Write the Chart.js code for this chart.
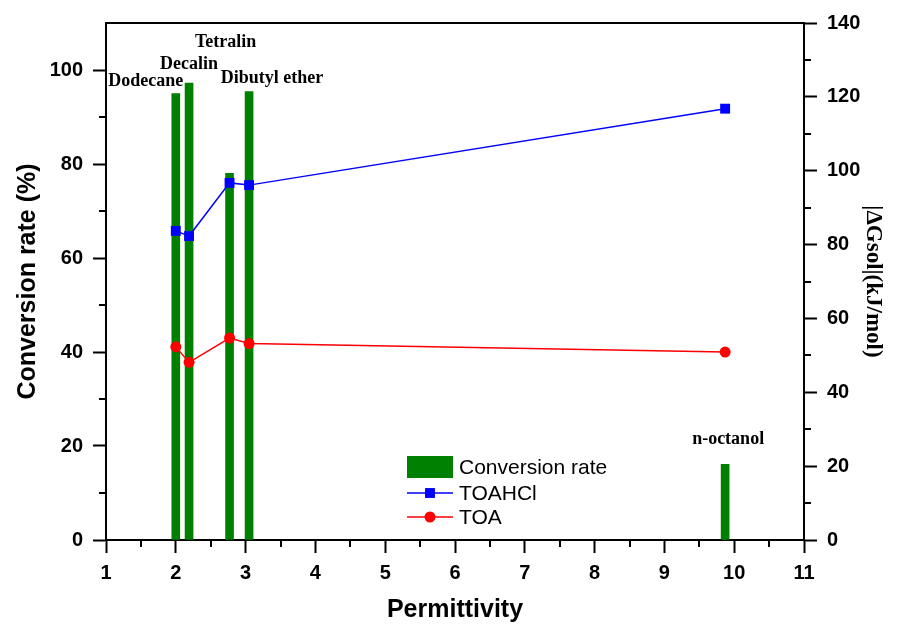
<!DOCTYPE html>
<html>
<head>
<meta charset="utf-8">
<title>Conversion rate vs permittivity</title>
<script src="https://cdn.jsdelivr.net/npm/chart.js@4/dist/chart.umd.min.js"></script>
<style>
  html, body { margin: 0; padding: 0; background: #fff; }
  #wrap { width: 897px; height: 625px; position: relative; }
</style>
</head>
<body>
<div id="wrap"><canvas id="chart"></canvas></div>
<script>
// solvents and their permittivity
const solvents = ['Dodecane', 'Decalin', 'Tetralin', 'Dibutyl ether', 'n-octanol'];
const permittivity = [2.0, 2.19, 2.77, 3.05, 9.87];

// conversion rate (%) - left axis
const conversionRate = [95.0, 97.2, 78.0, 95.4, 16.1];

// |dGsol| (kJ/mol) - right axis
const toahcl = [83.7, 82.3, 96.7, 96.1, 116.8];
const toa = [52.3, 48.1, 54.7, 53.2, 50.9];

// axis ticks
const xTicks = [1, 2, 3, 4, 5, 6, 7, 8, 9, 10, 11];
const xMinor = [1.5, 2.5, 3.5, 4.5, 5.5, 6.5, 7.5, 8.5, 9.5, 10.5];
const leftTicks = [0, 20, 40, 60, 80, 100];
const leftMinor = [10, 30, 50, 70, 90];
const rightTicks = [0, 20, 40, 60, 80, 100, 120, 140];
const rightMinor = [10, 30, 50, 70, 90, 110, 130];

// pixel offsets of the solvent names from the top of their bar
const labelOffsets = [[-30, -12], [0, -19], [-4, -131], [23, -13], [3, -25]];

const GREEN = 'rgb(0,128,0)';
const BLUE = 'rgb(0,0,255)';
const RED = 'rgb(255,0,0)';

const sans = 'Liberation Sans, Arial, sans-serif';
const serif = 'Liberation Serif, Times New Roman, serif';

const toPoints = (ys) => permittivity.map((x, i) => ({ x: x, y: ys[i] }));

// short minor ticks + top frame line
const frameAndMinor = {
  id: 'frameAndMinor',
  afterDraw(chart) {
    const ctx = chart.ctx;
    const area = chart.chartArea;
    const { x, y, y1 } = chart.scales;
    ctx.save();
    ctx.strokeStyle = '#000';
    ctx.lineWidth = 2;
    ctx.beginPath();
    ctx.moveTo(area.left - 1, area.top);
    ctx.lineTo(area.right + 1, area.top);
    xMinor.forEach(v => {
      const px = Math.round(x.getPixelForValue(v));
      ctx.moveTo(px, area.bottom);
      ctx.lineTo(px, area.bottom + 7);
    });
    leftMinor.forEach(v => {
      const py = Math.round(y.getPixelForValue(v));
      ctx.moveTo(area.left, py);
      ctx.lineTo(area.left - 7, py);
    });
    rightMinor.forEach(v => {
      const py = Math.round(y1.getPixelForValue(v));
      ctx.moveTo(area.right, py);
      ctx.lineTo(area.right + 7, py);
    });
    ctx.stroke();
    ctx.restore();
  }
};

// solvent names above the bars
const barLabels = {
  id: 'barLabels',
  afterDatasetsDraw(chart) {
    const ctx = chart.ctx;
    const { x, y } = chart.scales;
    ctx.save();
    ctx.fillStyle = '#000';
    ctx.font = 'bold 18px ' + serif;
    ctx.textAlign = 'center';
    ctx.textBaseline = 'middle';
    solvents.forEach((name, i) => {
      const px = x.getPixelForValue(permittivity[i]) + labelOffsets[i][0];
      const py = y.getPixelForValue(conversionRate[i]) + labelOffsets[i][1];
      ctx.fillText(name, px, py);
    });
    ctx.restore();
  }
};

// legend inside the plot, lower middle
const insideLegend = {
  id: 'insideLegend',
  afterDraw(chart) {
    const ctx = chart.ctx;
    const area = chart.chartArea;
    const left = area.left + 301;
    const top = area.top + 433;
    ctx.save();
    ctx.font = '21px ' + sans;
    ctx.textBaseline = 'middle';
    ctx.fillStyle = GREEN;
    ctx.fillRect(left, top, 46, 22);
    ctx.fillStyle = '#000';
    ctx.fillText('Conversion rate', left + 52, top + 12);

    const rows = [
      { label: 'TOAHCl', color: BLUE, style: 'rect', r: 7, dy: 37 },
      { label: 'TOA', color: RED, style: 'circle', r: 5.5, dy: 61 }
    ];
    rows.forEach(row => {
      const cy = top + row.dy;
      ctx.strokeStyle = row.color;
      ctx.lineWidth = 1.5;
      ctx.beginPath();
      ctx.moveTo(left, cy);
      ctx.lineTo(left + 46, cy);
      ctx.stroke();
      ctx.fillStyle = row.color;
      Chart.helpers.drawPoint(ctx, { pointStyle: row.style, radius: row.r, borderWidth: 0 }, left + 23, cy);
      ctx.fillStyle = '#000';
      ctx.fillText(row.label, left + 52, cy + 1);
    });
    ctx.restore();
  }
};

const ctx = document.getElementById('chart');

new Chart(ctx, {
  type: 'bar',
  data: {
    datasets: [
      {
        type: 'line',
        label: 'TOAHCl',
        data: toPoints(toahcl),
        yAxisID: 'y1',
        borderColor: BLUE,
        backgroundColor: BLUE,
        borderWidth: 1.5,
        pointStyle: 'rect',
        pointRadius: 7,
        pointBorderWidth: 0,
        pointBackgroundColor: BLUE,
        order: 0
      },
      {
        type: 'line',
        label: 'TOA',
        data: toPoints(toa),
        yAxisID: 'y1',
        borderColor: RED,
        backgroundColor: RED,
        borderWidth: 1.5,
        pointStyle: 'circle',
        pointRadius: 5.5,
        pointBorderWidth: 0,
        pointBackgroundColor: RED,
        order: 1
      },
      {
        type: 'bar',
        label: 'Conversion rate',
        data: toPoints(conversionRate),
        yAxisID: 'y',
        backgroundColor: GREEN,
        borderWidth: 0,
        barThickness: 8,
        order: 2
      }
    ]
  },
  options: {
    responsive: true,
    maintainAspectRatio: false,
    animation: false,
    layout: { padding: { top: 23, left: 0, right: 0, bottom: 0 } },
    plugins: {
      legend: { display: false },
      tooltip: { enabled: false }
    },
    scales: {
      x: {
        type: 'linear',
        min: 1,
        max: 11,
        offset: false,
        afterBuildTicks: (axis) => { axis.ticks = xTicks.map(v => ({ value: v })); },
        afterFit: (axis) => { axis.height = 85; },
        grid: { offset: false, drawOnChartArea: false, drawTicks: true, tickLength: 13, tickWidth: 2, tickColor: '#000' },
        border: { display: true, color: '#000', width: 2 },
        ticks: { color: '#000', padding: 8, maxRotation: 0, font: { family: sans, size: 20, weight: 'bold' } },
        title: { display: true, text: 'Permittivity', color: '#000', padding: { top: 0, bottom: 0 }, font: { family: sans, size: 25, weight: 'bold' } }
      },
      y: {
        type: 'linear',
        position: 'left',
        min: 0,
        max: 110,
        afterBuildTicks: (axis) => { axis.ticks = leftTicks.map(v => ({ value: v })); },
        afterFit: (axis) => { axis.width = 106; },
        grid: { drawOnChartArea: false, drawTicks: true, tickLength: 13, tickWidth: 2, tickColor: '#000' },
        border: { display: true, color: '#000', width: 2 },
        ticks: { color: '#000', padding: 10, font: { family: sans, size: 20, weight: 'bold' } },
        title: { display: true, text: 'Conversion rate (%)', color: '#000', padding: { top: 13, bottom: 0 }, font: { family: sans, size: 25, weight: 'bold' } }
      },
      y1: {
        type: 'linear',
        position: 'right',
        min: 0,
        max: 140,
        afterBuildTicks: (axis) => { axis.ticks = rightTicks.map(v => ({ value: v })); },
        afterFit: (axis) => { axis.width = 93; },
        grid: { drawOnChartArea: false, drawTicks: true, tickLength: 13, tickWidth: 2, tickColor: '#000' },
        border: { display: true, color: '#000', width: 2 },
        ticks: { color: '#000', padding: 10, font: { family: sans, size: 20, weight: 'bold' } },
        title: { display: true, text: '|ΔGsol|(kJ/mol)', color: '#000', padding: { top: 10, bottom: 0 }, font: { family: serif, size: 23, weight: 'bold' } }
      }
    }
  },
  plugins: [frameAndMinor, barLabels, insideLegend]
});
</script>
</body>
</html>
